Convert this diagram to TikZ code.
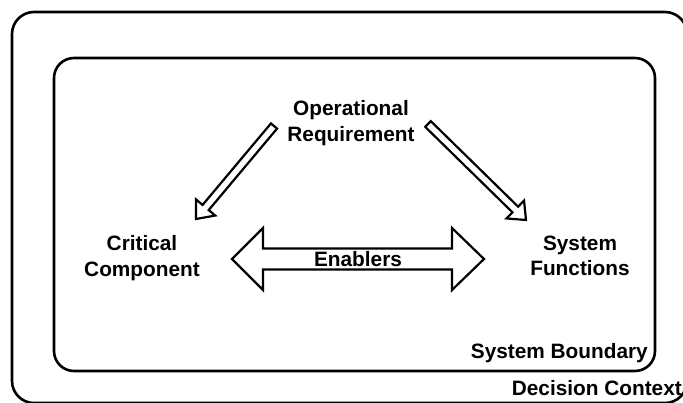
\documentclass[tikz,border=0pt]{standalone}
\usepackage{fontspec}
\setmainfont{Liberation Sans}
\usetikzlibrary{calc}
\newcommand\hollowarrow[5]{%
  \coordinate (hb) at ($(#2)!#5!(#1)$);
  \draw[hollow] ($(#1)!#3!90:(#2)$) -- ($(hb)!#3!90:(#2)$) -- ($(hb)!#4!90:(#2)$) -- (#2)
    -- ($(hb)!#4!-90:(#2)$) -- ($(hb)!#3!-90:(#2)$) -- ($(#1)!#3!-90:(#2)$) -- cycle;}
\begin{document}
\begin{tikzpicture}[x=1pt,y=-1pt,
  lbl/.style={font=\fontsize{20.8}{25.5}\selectfont\bfseries, align=center, inner sep=0pt},
  boxline/.style={line width=2.6pt},
  hollow/.style={line width=2.2pt, line join=miter, fill=white}]
\useasboundingbox (0,0) rectangle (683,402);
\clip (0,0) rectangle (683,402);
% boxes
\draw[boxline, rounded corners=22pt] (12,12) rectangle (687,403);
\draw[boxline, rounded corners=20pt] (54,58) rectangle (655,371);
% arrows
\coordinate (a1s) at (274,126);
\coordinate (a1e) at (196,219);
\coordinate (a2s) at (428,124);
\coordinate (a2e) at (526,220);
\hollowarrow{a1s}{a1e}{4pt}{12.5pt}{15pt}
\hollowarrow{a2s}{a2e}{4pt}{12.5pt}{15pt}
\coordinate (dl) at (232,259);
\coordinate (dr) at (484,259);
\draw[hollow] (dl) -- ($(dl)+(31,-31)$) -- ($(dl)+(31,-10.5)$) -- ($(dr)+(-32,-10.5)$)
  -- ($(dr)+(-32,-31)$) -- (dr) -- ($(dr)+(-32,31)$) -- ($(dr)+(-32,10.5)$)
  -- ($(dl)+(31,10.5)$) -- ($(dl)+(31,31)$) -- cycle;
% labels
\node[lbl] (op) at (351,123) {Operational\\Requirement};
\node[lbl] (cc) at (142,258) {Critical\\Component};
\node[lbl] (sf) at (580,256) {System\\Functions};
\node[lbl] (en) at (358,259) {Enablers};
\node[lbl, anchor=east] (sb) at (648,353) {System Boundary};
\node[lbl, anchor=east] (dc) at (682,388) {Decision Context};
\end{tikzpicture}
\end{document}
